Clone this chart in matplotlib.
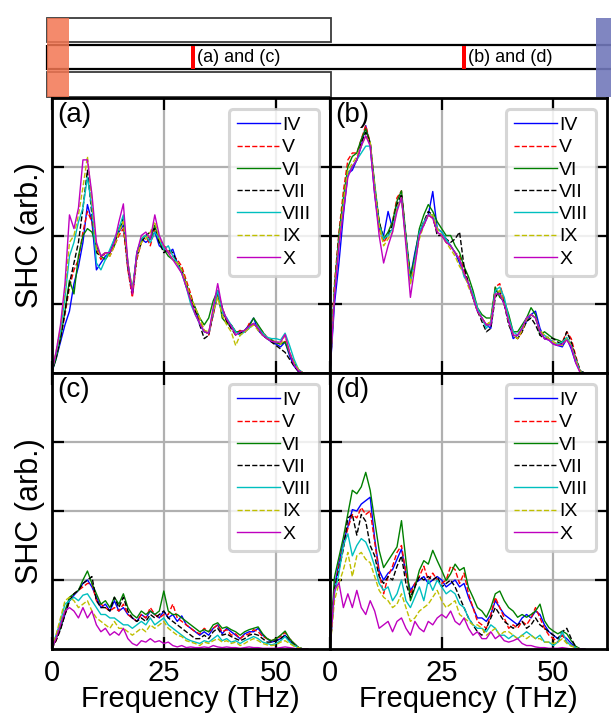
import matplotlib
matplotlib.use('Agg')
import matplotlib.pyplot as plt
from matplotlib.patches import Rectangle

plt.rcParams['font.family'] = ['Liberation Sans', 'DejaVu Sans']

# ---------------- data ----------------
freq = list(range(58))  # THz
labels = ['IV', 'V', 'VI', 'VII', 'VIII', 'IX', 'X']
colors = ['b', 'r', 'g', 'k', 'c', 'y', 'm']
styles = ['-', '--', '-', '--', '-', '--', '-']
panel_tags = ['(a)', '(b)', '(c)', '(d)']
xticks = [0, 25, 50]

# panel (a)
a_IV = [0, 0.2, 0.45, 0.7, 0.9, 1.3, 1.55, 1.9, 2.45, 2.2,
        1.5, 1.6, 1.7, 1.75, 1.95, 2.05, 2.15, 1.55, 1.15, 1.75,
        1.95, 1.9, 1.95, 2.05, 1.85, 1.8, 1.75, 1.8, 1.6, 1.45,
        1.3, 1.05, 0.95, 0.7, 0.6, 0.58, 0.85, 1.15, 0.85, 0.8,
        0.65, 0.6, 0.55, 0.62, 0.7, 0.8, 0.62, 0.55, 0.5, 0.45,
        0.42, 0.38, 0.45, 0.25, 0.1, 0.02, 0, 0]
a_V = [0, 0.25, 0.5, 0.85, 1.25, 1.5, 1.65, 2.05, 2.35, 2.2,
       1.8, 1.65, 1.75, 1.7, 1.85, 2.0, 2.1, 1.5, 1.1, 1.65,
       1.9, 2.0, 1.85, 2.1, 1.95, 1.85, 1.8, 1.7, 1.65, 1.55,
       1.35, 1.15, 0.9, 0.78, 0.62, 0.55, 0.85, 1.15, 0.95, 0.75,
       0.7, 0.6, 0.62, 0.58, 0.72, 0.7, 0.68, 0.6, 0.52, 0.48,
       0.45, 0.42, 0.46, 0.3, 0.15, 0.04, 0, 0]
a_VI = [0, 0.2, 0.5, 0.9, 1.35, 1.15, 1.7, 2.0, 2.1, 2.05,
        1.85, 1.7, 1.65, 1.75, 1.85, 2.1, 2.2, 1.6, 1.2, 1.7,
        1.95, 2.0, 1.95, 2.15, 1.9, 1.8, 1.7, 1.65, 1.6, 1.5,
        1.3, 1.1, 0.95, 0.8, 0.7, 0.8, 1.05, 1.2, 0.8, 0.72,
        0.7, 0.6, 0.6, 0.62, 0.68, 0.8, 0.7, 0.6, 0.5, 0.48,
        0.44, 0.42, 0.45, 0.28, 0.15, 0.05, 0, 0]
a_VII = [0, 0.22, 0.5, 0.9, 1.3, 1.6, 1.9, 2.4, 2.95, 2.3,
         1.75, 1.7, 1.75, 1.75, 1.9, 2.1, 2.25, 1.55, 1.15, 1.7,
         1.9, 2.0, 2.05, 2.1, 1.9, 1.75, 1.8, 1.75, 1.6, 1.5,
         1.25, 1.1, 0.9, 0.7, 0.5, 0.55, 0.9, 1.2, 0.95, 0.75,
         0.65, 0.55, 0.58, 0.6, 0.65, 0.72, 0.65, 0.55, 0.5, 0.45,
         0.4, 0.35, 0.3, 0.2, 0.1, 0.02, 0, 0]
a_VIII = [0, 0.28, 0.6, 1.1, 1.7, 1.9, 2.2, 2.4, 2.85, 2.4,
          1.6, 1.5, 1.65, 1.8, 1.95, 2.1, 2.3, 1.6, 1.2, 1.75,
          1.95, 2.0, 1.9, 2.05, 1.95, 1.8, 1.85, 1.7, 1.6, 1.45,
          1.25, 1.0, 0.85, 0.72, 0.6, 0.58, 0.9, 1.2, 0.9, 0.8,
          0.7, 0.6, 0.55, 0.6, 0.65, 0.72, 0.66, 0.58, 0.52, 0.5,
          0.5, 0.48, 0.58, 0.4, 0.2, 0.05, 0, 0]
a_IX = [0, 0.3, 0.65, 1.2, 1.9, 2.0, 2.3, 2.7, 3.15, 2.5,
        1.8, 1.7, 1.75, 1.7, 1.85, 2.05, 2.2, 1.6, 1.2, 1.7,
        1.9, 1.95, 2.05, 2.2, 1.95, 1.85, 1.75, 1.65, 1.6, 1.5,
        1.3, 1.1, 0.95, 0.8, 0.62, 0.6, 0.88, 1.1, 0.85, 0.7,
        0.6, 0.4, 0.55, 0.6, 0.65, 0.7, 0.62, 0.55, 0.5, 0.47,
        0.45, 0.42, 0.55, 0.3, 0.15, 0.05, 0, 0]
a_X = [0, 0.3, 0.7, 1.3, 2.3, 2.1, 2.4, 3.1, 3.1, 2.6,
       1.9, 1.7, 1.75, 1.75, 1.9, 2.2, 2.46, 1.6, 1.15, 1.75,
       2.0, 2.05, 1.95, 2.3, 2.0, 1.85, 1.75, 1.65, 1.55, 1.45,
       1.25, 1.05, 0.85, 0.72, 0.6, 0.58, 0.95, 1.3, 0.95, 0.78,
       0.68, 0.55, 0.6, 0.62, 0.68, 0.72, 0.65, 0.55, 0.5, 0.46,
       0.45, 0.45, 0.56, 0.3, 0.12, 0.03, 0, 0]

# panel (b)
b_IV = [0, 1.0, 1.6, 2.3, 2.9, 2.95, 3.1, 3.3, 3.6, 3.3,
        2.6, 2.1, 2.0, 2.35, 2.1, 2.4, 2.55, 1.95, 1.4, 1.75,
        2.05, 2.15, 2.3, 2.64, 2.1, 2.05, 1.95, 1.85, 1.75, 1.6,
        1.45, 1.3, 1.1, 0.9, 0.8, 0.7, 0.65, 1.2, 1.15, 1.0,
        0.75, 0.5, 0.55, 0.65, 0.75, 0.85, 0.9, 0.65, 0.5, 0.48,
        0.42, 0.4, 0.38, 0.5, 0.35, 0.15, 0.02, 0]
b_V = [0, 1.3, 2.05, 2.65, 3.1, 3.2, 3.2, 3.4, 3.6, 3.35,
       2.65, 2.1, 1.9, 2.0, 2.2, 2.55, 2.65, 1.95, 1.35, 1.65,
       2.05, 2.2, 2.3, 2.25, 2.05, 2.0, 1.9, 1.85, 1.75, 1.7,
       1.5, 1.3, 1.15, 0.9, 0.8, 0.7, 0.75, 1.25, 1.3, 1.05,
       0.8, 0.55, 0.5, 0.6, 0.8, 0.85, 0.8, 0.6, 0.55, 0.5,
       0.45, 0.4, 0.45, 0.6, 0.5, 0.25, 0.03, 0]
b_VI = [0, 1.25, 2.0, 2.55, 3.0, 3.15, 3.2, 3.4, 3.55, 3.35,
        2.75, 2.2, 1.95, 2.05, 2.2, 2.5, 2.65, 2.0, 1.4, 1.7,
        2.1, 2.3, 2.45, 2.35, 2.2, 2.1, 2.0, 2.0, 1.85, 1.75,
        1.55, 1.4, 1.2, 0.95, 0.85, 0.8, 0.8, 1.25, 1.1, 1.05,
        0.85, 0.6, 0.6, 0.7, 0.8, 0.95, 0.85, 0.55, 0.6, 0.55,
        0.5, 0.48, 0.45, 0.5, 0.42, 0.2, 0.02, 0]
b_VII = [0, 1.2, 1.95, 2.45, 2.9, 3.0, 3.1, 3.35, 3.5, 3.35,
         2.7, 2.2, 1.95, 2.0, 2.15, 2.45, 2.6, 1.95, 1.35, 1.65,
         2.05, 2.2, 2.35, 2.3, 2.0, 2.0, 1.95, 1.9, 1.95, 2.05,
         1.55, 1.3, 1.1, 0.9, 0.75, 0.6, 0.65, 1.1, 1.2, 1.0,
         0.7, 0.55, 0.5, 0.6, 0.75, 0.8, 0.7, 0.55, 0.5, 0.52,
         0.5, 0.45, 0.42, 0.6, 0.45, 0.22, 0.03, 0]
b_VIII = [0, 1.15, 1.9, 2.45, 2.9, 3.0, 3.1, 3.2, 3.3, 3.3,
          2.7, 2.15, 1.95, 2.0, 2.1, 2.4, 2.55, 1.95, 1.3, 1.65,
          2.05, 2.2, 2.3, 2.3, 2.1, 2.05, 1.95, 1.85, 1.75, 1.65,
          1.4, 1.3, 1.15, 0.95, 0.8, 0.65, 0.75, 1.2, 1.25, 1.1,
          0.8, 0.6, 0.55, 0.65, 0.8, 0.85, 0.8, 0.6, 0.55, 0.5,
          0.45, 0.42, 0.45, 0.52, 0.4, 0.2, 0.02, 0]
b_IX = [0, 1.2, 1.9, 2.5, 2.95, 3.05, 3.15, 3.3, 3.45, 3.35,
        2.7, 2.15, 1.85, 1.95, 2.05, 2.4, 2.55, 1.9, 1.3, 1.6,
        1.95, 2.15, 2.3, 2.3, 2.1, 2.0, 1.9, 1.8, 1.7, 1.55,
        1.45, 1.25, 1.1, 0.9, 0.8, 0.7, 0.75, 1.15, 1.2, 1.0,
        0.75, 0.55, 0.5, 0.62, 0.78, 0.85, 0.8, 0.62, 0.55, 0.5,
        0.45, 0.42, 0.4, 0.5, 0.4, 0.18, 0.02, 0]
b_X = [0, 1.1, 1.85, 2.35, 2.85, 3.0, 3.1, 3.3, 3.45, 3.3,
       2.6, 2.0, 1.6, 1.85, 2.05, 2.35, 2.55, 1.85, 1.1, 1.55,
       2.0, 2.15, 2.3, 2.25, 2.05, 2.0, 1.9, 1.85, 1.75, 1.65,
       1.45, 1.3, 1.1, 0.9, 0.8, 0.7, 0.7, 1.15, 1.15, 1.0,
       0.75, 0.55, 0.55, 0.65, 0.8, 0.85, 0.8, 0.6, 0.5, 0.48,
       0.42, 0.4, 0.42, 0.48, 0.38, 0.15, 0.0, 0]

# panel (c)
c_IV = [0, 0.15, 0.3, 0.5, 0.7, 0.78, 0.85, 0.95, 1.0, 0.9,
        0.75, 0.6, 0.65, 0.55, 0.7, 0.55, 0.6, 0.5, 0.45, 0.4,
        0.5, 0.45, 0.55, 0.5, 0.45, 0.55, 0.45, 0.5, 0.4, 0.48,
        0.35, 0.3, 0.25, 0.2, 0.25, 0.2, 0.3, 0.35, 0.22, 0.3,
        0.25, 0.2, 0.15, 0.22, 0.25, 0.25, 0.3, 0.2, 0.15, 0.1,
        0.12, 0.15, 0.2, 0.12, 0.08, 0.02, 0, 0]
c_V = [0, 0.12, 0.3, 0.5, 0.7, 0.8, 0.85, 0.9, 0.95, 0.95,
       0.7, 0.65, 0.6, 0.55, 0.6, 0.55, 0.65, 0.5, 0.45, 0.4,
       0.5, 0.45, 0.6, 0.5, 0.45, 0.5, 0.5, 0.65, 0.45, 0.4,
       0.35, 0.3, 0.25, 0.22, 0.3, 0.25, 0.3, 0.35, 0.25, 0.28,
       0.2, 0.22, 0.15, 0.2, 0.22, 0.28, 0.25, 0.18, 0.15, 0.12,
       0.15, 0.18, 0.24, 0.15, 0.08, 0.02, 0, 0]
c_VI = [0, 0.15, 0.3, 0.55, 0.75, 0.8, 0.85, 1.0, 1.13, 0.95,
        0.8, 0.65, 0.7, 0.6, 0.75, 0.65, 0.8, 0.6, 0.5, 0.45,
        0.55, 0.5, 0.55, 0.5, 0.55, 0.84, 0.55, 0.5, 0.5, 0.45,
        0.4, 0.35, 0.3, 0.25, 0.28, 0.25, 0.35, 0.38, 0.3, 0.32,
        0.28, 0.25, 0.2, 0.25, 0.28, 0.3, 0.32, 0.22, 0.15, 0.12,
        0.15, 0.2, 0.26, 0.15, 0.08, 0.02, 0, 0]
c_VII = [0, 0.12, 0.28, 0.5, 0.7, 0.8, 0.85, 0.95, 1.0, 1.05,
         0.7, 0.6, 0.6, 0.55, 0.75, 0.6, 0.75, 0.55, 0.45, 0.4,
         0.45, 0.4, 0.5, 0.45, 0.5, 0.55, 0.45, 0.4, 0.35, 0.3,
         0.25, 0.2, 0.15, 0.15, 0.2, 0.15, 0.25, 0.3, 0.2, 0.22,
         0.18, 0.15, 0.12, 0.15, 0.2, 0.22, 0.2, 0.15, 0.1, 0.1,
         0.12, 0.15, 0.2, 0.12, 0.06, 0.02, 0, 0]
c_VIII = [0, 0.2, 0.4, 0.65, 0.7, 0.75, 0.7, 0.78, 0.8, 0.7,
          0.6, 0.5, 0.5, 0.45, 0.45, 0.4, 0.35, 0.35, 0.3, 0.35,
          0.4, 0.35, 0.45, 0.35, 0.4, 0.45, 0.35, 0.3, 0.25, 0.2,
          0.15, 0.12, 0.1, 0.08, 0.12, 0.1, 0.15, 0.2, 0.12, 0.15,
          0.1, 0.12, 0.08, 0.12, 0.15, 0.18, 0.15, 0.1, 0.08, 0.06,
          0.08, 0.12, 0.18, 0.1, 0.05, 0.02, 0, 0]
c_IX = [0, 0.2, 0.45, 0.7, 0.75, 0.7, 0.6, 0.65, 0.7, 0.55,
        0.45, 0.4, 0.35, 0.3, 0.4, 0.3, 0.3, 0.25, 0.2, 0.25,
        0.3, 0.25, 0.35, 0.3, 0.35, 0.4, 0.3, 0.25, 0.2, 0.18,
        0.12, 0.1, 0.08, 0.05, 0.1, 0.08, 0.12, 0.15, 0.1, 0.12,
        0.08, 0.1, 0.05, 0.08, 0.12, 0.15, 0.12, 0.08, 0.06, 0.05,
        0.06, 0.1, 0.12, 0.08, 0.04, 0.02, 0, 0]
c_X = [0, 0.15, 0.35, 0.55, 0.6, 0.55, 0.45, 0.6, 0.45, 0.55,
       0.35, 0.25, 0.3, 0.2, 0.25, 0.2, 0.3, 0.15, 0.08, 0.05,
       0.12, 0.1, 0.15, 0.1, 0.12, 0.08, 0.1, 0.05, 0.03, 0.05,
       0.02, 0.03, 0.02, 0.02, 0.03, 0.02, 0.05, 0.03, 0.02, 0.03,
       0.02, 0.02, 0.01, 0.02, 0.03, 0.02, 0.02, 0.01, 0.01, 0.01,
       0.01, 0.02, 0.03, 0.02, 0.01, 0, 0, 0]

# panel (d)
d_IV = [0, 0.9, 1.25, 1.55, 1.77, 2.02, 2.0, 2.1, 2.15, 2.2,
        1.6, 1.14, 1.0, 1.1, 1.15, 1.3, 1.45, 1.1, 0.85, 0.95,
        1.0, 1.05, 0.95, 1.0, 1.05, 1.0, 0.9, 0.95, 1.0, 0.9,
        0.95, 0.75, 0.6, 0.45, 0.45, 0.4, 0.5, 0.7, 0.6, 0.5,
        0.45, 0.4, 0.35, 0.45, 0.5, 0.45, 0.55, 0.5, 0.35, 0.25,
        0.2, 0.15, 0.2, 0.15, 0.08, 0.03, 0, 0]
d_V = [0, 0.85, 1.2, 1.5, 1.75, 1.95, 1.9, 2.05, 1.95, 2.0,
       1.55, 1.1, 0.8, 1.05, 1.2, 1.4, 1.5, 1.1, 0.8, 0.95,
       1.05, 1.2, 1.0, 1.1, 1.0, 0.95, 1.0, 1.2, 1.15, 0.95,
       1.1, 0.8, 0.6, 0.4, 0.35, 0.3, 0.5, 0.75, 0.6, 0.45,
       0.3, 0.35, 0.3, 0.4, 0.35, 0.45, 0.6, 0.45, 0.3, 0.2,
       0.15, 0.1, 0.2, 0.1, 0.05, 0.02, 0, 0]
d_VI = [0, 1.04, 1.33, 1.62, 1.96, 2.3, 2.25, 2.35, 2.56, 2.3,
        1.86, 1.43, 1.18, 1.28, 1.38, 1.48, 1.86, 1.28, 0.7, 0.89,
        1.14, 1.28, 1.23, 1.43, 1.28, 1.14, 0.99, 1.09, 1.23, 1.14,
        1.18, 0.89, 0.75, 0.6, 0.55, 0.46, 0.6, 0.8, 0.84, 0.7,
        0.6, 0.55, 0.46, 0.5, 0.46, 0.5, 0.55, 0.65, 0.41, 0.31,
        0.26, 0.22, 0.26, 0.22, 0.12, 0.04, 0, 0]
d_VII = [0, 0.85, 1.15, 1.45, 1.9, 1.95, 1.65, 1.95, 1.85, 1.5,
         1.35, 1.05, 0.95, 1.05, 1.0, 1.2, 1.35, 0.95, 0.75, 0.9,
         1.05, 1.0, 1.05, 1.0, 1.05, 0.9, 0.95, 1.0, 0.9, 0.75,
         0.6, 0.45, 0.35, 0.25, 0.2, 0.3, 0.45, 0.6, 0.5, 0.4,
         0.35, 0.3, 0.35, 0.4, 0.3, 0.35, 0.45, 0.35, 0.3, 0.25,
         0.2, 0.15, 0.25, 0.3, 0.15, 0.03, 0, 0]
d_VIII = [0, 0.8, 1.1, 1.5, 1.67, 1.35, 1.5, 1.6, 1.55, 1.4,
          1.2, 0.95, 0.85, 0.9, 0.7, 0.8, 1.0, 0.7, 0.6, 0.75,
          0.9, 0.7, 1.0, 0.85, 1.0, 0.9, 0.8, 0.85, 0.8, 0.65,
          0.6, 0.45, 0.35, 0.3, 0.3, 0.25, 0.35, 0.3, 0.2, 0.2,
          0.15, 0.2, 0.15, 0.2, 0.25, 0.2, 0.15, 0.2, 0.1, 0.1,
          0.05, 0.1, 0.25, 0.1, 0.05, 0.02, 0, 0]
d_IX = [0, 0.7, 0.95, 1.15, 1.4, 1.05, 1.35, 1.4, 1.3, 1.25,
        1.05, 0.85, 0.75, 0.7, 0.6, 0.65, 0.8, 0.6, 0.4, 0.45,
        0.55, 0.6, 0.65, 0.75, 0.85, 0.7, 0.6, 0.65, 0.7, 0.5,
        0.45, 0.4, 0.35, 0.35, 0.3, 0.2, 0.25, 0.3, 0.2, 0.25,
        0.25, 0.2, 0.15, 0.2, 0.15, 0.2, 0.15, 0.15, 0.1, 0.1,
        0.08, 0.1, 0.15, 0.08, 0.04, 0.02, 0, 0]
d_X = [0, 0.85, 0.96, 0.6, 0.8, 0.6, 0.85, 0.6, 0.5, 0.7,
       0.55, 0.3, 0.35, 0.4, 0.25, 0.4, 0.45, 0.3, 0.2, 0.4,
       0.3, 0.25, 0.4, 0.35, 0.45, 0.5, 0.45, 0.55, 0.4, 0.35,
       0.45, 0.3, 0.2, 0.25, 0.15, 0.15, 0.25, 0.15, 0.2, 0.12,
       0.1, 0.12, 0.15, 0.08, 0.05, 0.05, 0.03, 0.02, 0.02, 0.01,
       0.01, 0.01, 0.02, 0.01, 0, 0, 0, 0]

panels = [
    [a_IV, a_V, a_VI, a_VII, a_VIII, a_IX, a_X],
    [b_IV, b_V, b_VI, b_VII, b_VIII, b_IX, b_X],
    [c_IV, c_V, c_VI, c_VII, c_VIII, c_IX, c_X],
    [d_IV, d_V, d_VI, d_VII, d_VIII, d_IX, d_X],
]

# ---------------- layout (pixels) ----------------
W, H = 611, 715
fig = plt.figure(figsize=(W / 100, H / 100), dpi=100)


def rect(x0, y0, x1, y1):
    return [x0 / W, 1 - y1 / H, (x1 - x0) / W, (y1 - y0) / H]


# schematic on top
sk = fig.add_axes([0, 0, 1, 1], zorder=0)
sk.set_xlim(0, W)
sk.set_ylim(H, 0)
sk.axis('off')
sk.add_patch(Rectangle((46.8, 17.5), 284.5, 24.6, fill=False, ec='#3a3a3a', lw=1.3))
sk.add_patch(Rectangle((46.8, 44.8), 600, 24.6, fill=False, ec='black', lw=1.6))
sk.add_patch(Rectangle((46.8, 72.1), 284.0, 25.0, fill=False, ec='#3a3a3a', lw=1.3))
sk.add_patch(Rectangle((46.8, 17.5), 22.2, 79.6, fc='#f37652', ec='none', alpha=0.85))
sk.add_patch(Rectangle((596.3, 17.5), 20, 79.6, fc='#7279bb', ec='none', alpha=0.9))
sk.add_patch(Rectangle((191, 45.5), 4, 23.5, fc='red', ec='none'))
sk.add_patch(Rectangle((462, 45.5), 4, 23.5, fc='red', ec='none'))
sk.text(197, 57.5, '(a) and (c)', fontsize=13, va='center', ha='left')
sk.text(468, 57.5, '(b) and (d)', fontsize=13, va='center', ha='left')

positions = [rect(51.5, 98, 330, 373), rect(330, 98, 607, 373),
             rect(51.5, 373, 330, 649), rect(330, 373, 607, 649)]

for i, pos in enumerate(positions):
    ax = fig.add_axes(pos, zorder=2)
    for vals, lab, col, ls in zip(panels[i], labels, colors, styles):
        ax.plot(freq, vals, color=col, ls=ls, lw=1.0, label=lab)
    ax.set_xlim(0, 62)
    ax.set_ylim(0, 4)
    ax.set_xticks(xticks)
    ax.set_yticks([1, 2, 3])
    ax.set_yticklabels([])
    ax.grid(True, color='#b0b0b0', lw=1.6)
    ax.set_axisbelow(True)
    ax.tick_params(direction='in', length=8.5, width=1.6, top=True, right=True,
                   labelsize=21, pad=7)
    for sp in ax.spines.values():
        sp.set_linewidth(2.0)
    if i < 2:
        ax.set_xticklabels([])
    else:
        ax.set_xlabel('Frequency (THz)', fontsize=21, labelpad=-1)
    if i % 2 == 0:
        ax.set_ylabel('SHC (arb.)', fontsize=22, labelpad=-2)
    ax.text(0.02, 0.985, panel_tags[i], transform=ax.transAxes,
            fontsize=20, va='top', ha='left')
    leg = ax.legend(loc='upper right', fontsize=14, handlelength=2.25,
                    handletextpad=0.1, labelspacing=0.24, borderpad=0.4,
                    borderaxespad=0.55, framealpha=0.8, edgecolor='#cccccc',
                    fancybox=True)
    leg.get_frame().set_linewidth(2.2)

fig.savefig('out.png', dpi=100)
